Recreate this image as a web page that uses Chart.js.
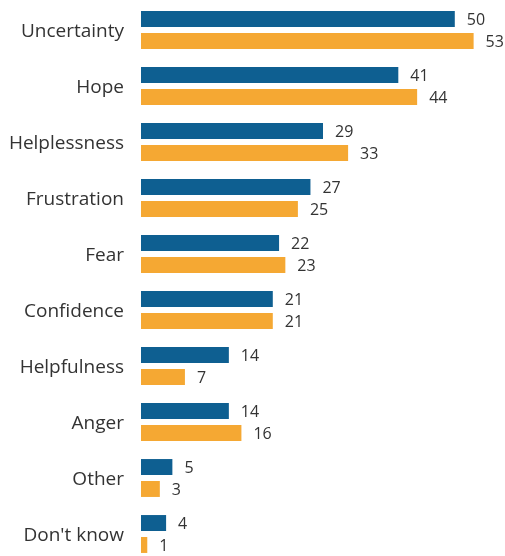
<!DOCTYPE html>
<html>
<head>
<meta charset="utf-8">
<script src="https://cdn.jsdelivr.net/npm/chart.js@4"></script>
<style>
  html, body { margin: 0; padding: 0; background: #fff; overflow: hidden; }
  #wrap { width: 505px; height: 562px; }
</style>
</head>
<body>
<div id="wrap"><canvas id="emotionsChart"></canvas></div>
<script>
// Data
var categories = ['Uncertainty', 'Hope', 'Helplessness', 'Frustration', 'Fear',
                  'Confidence', 'Helpfulness', 'Anger', 'Other', "Don't know"];
var seriesBlue = [50, 41, 29, 27, 22, 21, 14, 14, 5, 4];
var seriesOrange = [53, 44, 33, 25, 23, 21, 7, 16, 3, 1];

// category names + value labels
var textLabels = {
    id: 'textLabels',
    afterDatasetsDraw: function(chart) {
        var ctx = chart.ctx;
        var yScale = chart.scales.y;
        ctx.save();
        ctx.fillStyle = '#333333';
        ctx.textBaseline = 'middle';

        ctx.font = '19px "Open Sans"';
        ctx.textAlign = 'right';
        chart.data.labels.forEach(function(lbl, j) {
            ctx.fillText(lbl, chart.chartArea.left - 17, yScale.getPixelForValue(j) + 2);
        });

        ctx.font = '16px "Open Sans"';
        ctx.textAlign = 'left';
        chart.data.datasets.forEach(function(ds, i) {
            chart.getDatasetMeta(i).data.forEach(function(bar, j) {
                ctx.fillText(ds.data[j], bar.x + 12, bar.y + 1);
            });
        });
        ctx.restore();
    }
};

var ctx = document.getElementById('emotionsChart').getContext('2d');
var emotionsChart = new Chart(ctx, {
    type: 'bar',
    data: {
        labels: categories,
        datasets: [{
            label: 'Series 1',
            data: seriesBlue,
            backgroundColor: '#0e5f91',
            categoryPercentage: 0.784,
            barPercentage: 0.727
        }, {
            label: 'Series 2',
            data: seriesOrange,
            backgroundColor: '#f5a833',
            categoryPercentage: 0.784,
            barPercentage: 0.727
        }]
    },
    options: {
        indexAxis: 'y',
        responsive: true,
        maintainAspectRatio: false,
        animation: false,
        layout: { padding: { top: 2, left: 0, right: 0, bottom: 0 } },
        plugins: {
            legend: { display: false },
            tooltip: { enabled: false }
        },
        scales: {
            x: {
                display: false,
                min: 0,
                max: 58
            },
            y: {
                grid: { display: false, drawTicks: false },
                border: { display: false },
                ticks: { display: false },
                afterFit: function(scale) { scale.width = 141; }
            }
        }
    },
    plugins: [textLabels]
});
</script>
</body>
</html>
